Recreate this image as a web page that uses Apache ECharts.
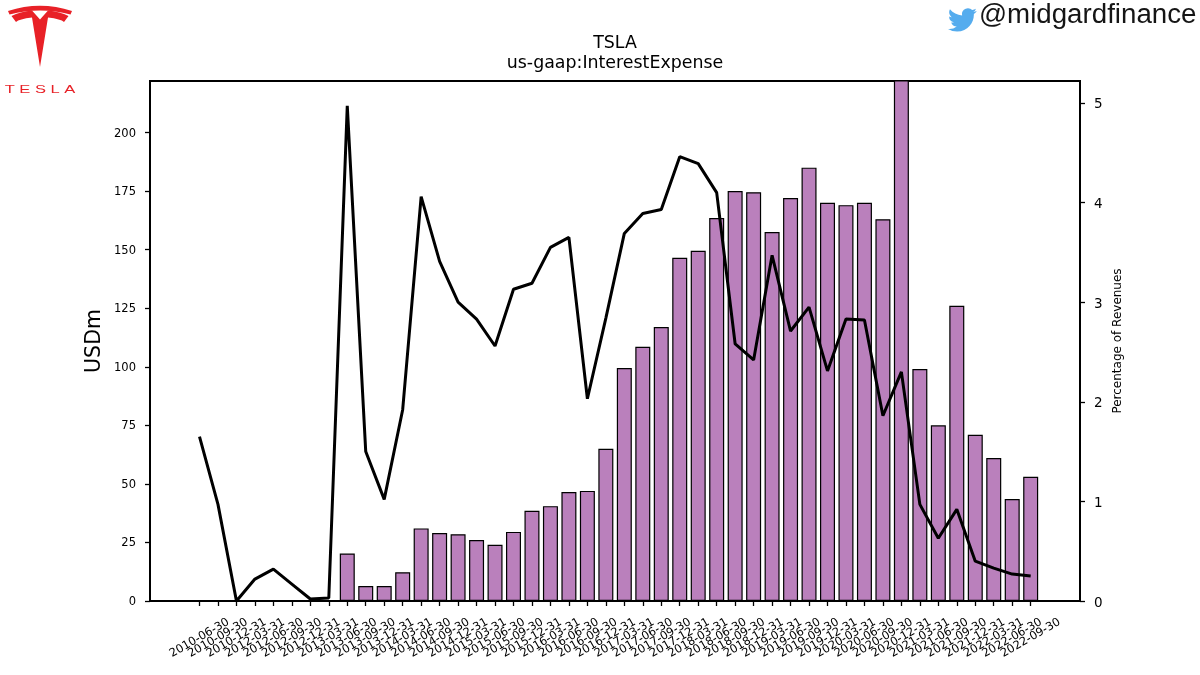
<!DOCTYPE html>
<html>
<head>
<meta charset="utf-8">
<script src="https://cdn.jsdelivr.net/npm/echarts@6/dist/echarts.min.js"></script>
<style>html,body{margin:0;padding:0;background:#fff}#chart{width:1200px;height:675px}</style>
</head>
<body>
<div id="chart"></div>
<script>
// Reporting period ends (no 2011 filings in the series)
const periods = [
  '2010-06-30','2010-09-30','2010-12-31','2012-03-31','2012-06-30','2012-09-30','2012-12-31',
  '2013-03-31','2013-06-30','2013-09-30','2013-12-31','2014-03-31','2014-06-30','2014-09-30','2014-12-31',
  '2015-03-31','2015-06-30','2015-09-30','2015-12-31','2016-03-31','2016-06-30','2016-09-30','2016-12-31',
  '2017-03-31','2017-06-30','2017-09-30','2017-12-31','2018-03-31','2018-06-30','2018-09-30','2018-12-31',
  '2019-03-31','2019-06-30','2019-09-30','2019-12-31','2020-03-31','2020-06-30','2020-09-30','2020-12-31',
  '2021-03-31','2021-06-30','2021-09-30','2021-12-31','2022-03-31','2022-06-30','2022-09-30'
];
// Interest expense, USD millions
const interestExpense = [
  null,null,null,null,null,null,null,null,
  20.3,6.4,6.4,12.3,31,29,28.5,26,24,29.5,38.5,40.5,46.5,47,65,99.5,108.5,117,146.5,149.5,163.5,
  175,174.5,157.5,172,185,170,169,170,163,228,99,75,126,71,61,43.5,53
];
// Interest expense as a percentage of revenues
const pctOfRevenues = [
  1.65,0.97,0,0.22,0.32,0.17,0.02,0.03,4.97,1.50,1.02,1.92,4.06,3.41,3.0,2.83,2.56,3.13,3.19,3.55,
  3.65,2.03,2.84,3.69,3.89,3.93,4.46,4.39,4.10,2.58,2.42,3.47,2.71,2.95,2.31,2.83,2.82,1.86,2.30,
  0.97,0.63,0.92,0.40,0.33,0.27,0.25
];
const leftTicks = [0,25,50,75,100,125,150,175,200];
const rightTicks = [0,1,2,3,4,5];
const periodIndex = periods.map((_, i) => i);

// The bar axis runs past the first and last period to leave side margins
const X_MIN = -2.68;
const X_MAX = 47.67;
// Blank end labels keep the edge-overlap check from dropping real period labels
const labelValues = [X_MIN, ...periodIndex, X_MAX];

const FONT = '"DejaVu Sans"';

// Outline shapes for the company mark and the social icon
const outlines = {
  markArc: 'M8,11 Q40,0.5 72,11 L70.5,14.5 Q40,6.5 9.5,14.5 Z',
  markBody: 'M11.5,16 L16,22 Q19,19 32,17.5 L40,67 L48,17.5 Q61,19 64,22 L68.5,16 Q60,11.5 48,10.5 L40,19.5 L32,10.5 Q20,11.5 11.5,16 Z',
  bird: 'M23.953 4.57 a10 10 0 0 1 -2.825 .775 a4.958 4.958 0 0 0 2.163 -2.723 c-.951 .555 -2.005 .959 -3.127 1.184 a4.92 4.92 0 0 0 -8.384 4.482 C7.69 8.095 4.067 6.13 1.64 3.162 a4.822 4.822 0 0 0 -.666 2.475 c0 1.71 .87 3.213 2.188 4.096 a4.904 4.904 0 0 1 -2.228 -.616 v.06 a4.923 4.923 0 0 0 3.946 4.827 a4.996 4.996 0 0 1 -2.212 .085 a4.936 4.936 0 0 0 4.604 3.417 a9.867 9.867 0 0 1 -6.102 2.105 c-.39 0 -.779 -.023 -1.17 -.067 a13.995 13.995 0 0 0 7.557 2.209 c9.053 0 13.998 -7.496 13.998 -13.985 c0 -.21 0 -.42 -.015 -.63 A9.935 9.935 0 0 0 24 4.59 z'
};
Object.keys(outlines).forEach(name => {
  echarts.graphic.registerShape(name, echarts.graphic.extendPath(outlines[name], {}));
});

const chart = echarts.init(document.getElementById('chart'), null, {renderer: 'canvas'});

chart.setOption({
  animation: false,
  backgroundColor: '#fff',
  title: {
    text: 'TSLA\nus-gaap:InterestExpense',
    left: 610, top: 28, textAlign: 'center',
    textStyle: {fontFamily: FONT, fontSize: 17.4, fontWeight: 'normal', color: '#000', lineHeight: 20}
  },
  grid: {
    left: 150, right: 120, top: 81, bottom: 74,
    show: true, borderColor: '#000', borderWidth: 2, backgroundColor: 'transparent'
  },
  xAxis: {
    type: 'value',
    min: X_MIN, max: X_MAX,
    splitLine: {show: false},
    axisLine: {onZero: false, lineStyle: {color: '#000', width: 2}},
    axisTick: {show: true, length: 5, customValues: periodIndex, lineStyle: {color: '#000', width: 1.3}},
    axisLabel: {
      customValues: labelValues,
      formatter: v => periods[v] || '',
      rotate: 30, align: 'center', verticalAlign: 'middle', margin: 37,
      hideOverlap: false,
      fontFamily: FONT, fontSize: 11.5, color: '#000'
    }
  },
  yAxis: [
    {
      type: 'value', position: 'left', min: 0, max: 222,
      name: 'USDm', nameLocation: 'middle', nameGap: 45, nameRotate: 90, nameMoveOverlap: false,
      nameTextStyle: {fontFamily: FONT, fontSize: 20.5, color: '#000'},
      splitLine: {show: false},
      axisLine: {show: true, onZero: false, lineStyle: {color: '#000', width: 2}},
      axisTick: {show: true, length: 5, customValues: leftTicks, lineStyle: {color: '#000', width: 1.3}},
      axisLabel: {
        customValues: leftTicks, margin: 14, formatter: '{t|{value}}',
        rich: {t: {padding: [2, 0, 0, 0], fontFamily: FONT, fontSize: 11.5, color: '#000'}}
      }
    },
    {
      type: 'value', position: 'right', min: 0, max: 5.22,
      name: 'Percentage of Revenues', nameLocation: 'middle', nameGap: 32, nameRotate: 90, nameMoveOverlap: false,
      nameTextStyle: {fontFamily: FONT, fontSize: 12, color: '#000'},
      splitLine: {show: false},
      axisLine: {show: true, onZero: false, lineStyle: {color: '#000', width: 2}},
      axisTick: {show: true, length: 5, customValues: rightTicks, lineStyle: {color: '#000', width: 1.3}},
      axisLabel: {
        customValues: rightTicks, margin: 14, formatter: '{t|{value}}',
        rich: {t: {padding: [4, 0, 0, 0], fontFamily: FONT, fontSize: 13.5, color: '#000'}}
      }
    }
  ],
  series: [
    {
      name: 'Interest expense',
      type: 'bar', yAxisIndex: 0, barWidth: 15, clip: true,
      itemStyle: {color: '#ba80bc', borderColor: '#000', borderWidth: 1.2},
      data: interestExpense.map((v, i) => [i, v])
    },
    {
      name: 'Percentage of revenues',
      type: 'line', yAxisIndex: 1, showSymbol: false, symbol: 'none', clip: true,
      lineStyle: {color: '#000', width: 3},
      data: pctOfRevenues.map((v, i) => [i, v]),
      z: 5
    }
  ],
  graphic: [
    {type: 'markArc', silent: true, style: {fill: '#e82127'}},
    {type: 'markBody', silent: true, style: {fill: '#e82127'}},
    {type: 'text', silent: true, x: 40, y: 90, scaleX: 1.65, scaleY: 1,
      style: {text: 'T E S L A', font: '10px "Liberation Sans"', fill: '#e82127', textAlign: 'center', textVerticalAlign: 'middle'}},
    {type: 'bird', silent: true, x: 948, y: 5.5, scaleX: 1.2, scaleY: 1.2, style: {fill: '#55acee'}},
    {type: 'text', silent: true, x: 979, y: 15,
      style: {text: '@midgardfinance', font: '27.7px "Liberation Sans"', fill: '#151515', textAlign: 'left', textVerticalAlign: 'middle'}}
  ]
});
</script>
</body>
</html>
